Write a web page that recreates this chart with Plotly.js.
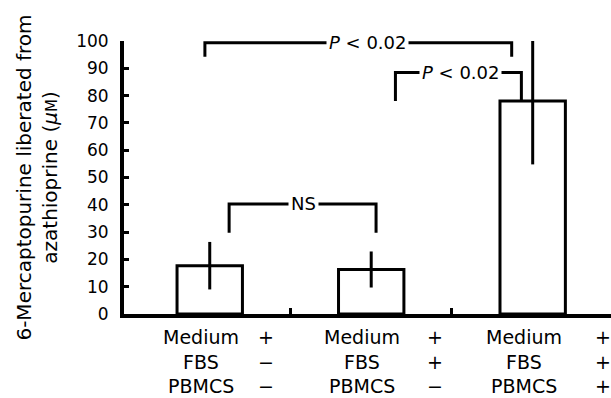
<!DOCTYPE html>
<html>
<head>
<meta charset="utf-8">
<script src="https://cdn.plot.ly/plotly-3.0.1.min.js"></script>
<style>html,body{margin:0;padding:0;background:#fff;}#chart{width:611px;height:398px;}</style>
</head>
<body>
<div id="chart"></div>
<script>
// ---- data ----
var groups = [0, 1, 2];
var means = [17.7, 16.3, 78];
var errors = [8.7, 6.6, 23.2];
var rowNames = ["Medium", "FBS", "PBMCS"];
var medium = ["+", "+", "+"];
var fbs = ["\u2212", "+", "+"];
var pbmcs = ["\u2212", "\u2212", "+"];
var yTickVals = [0, 10, 20, 30, 40, 50, 60, 70, 80, 90, 100];
var comparisons = [
  {from: 0, to: 1, label: "NS"},
  {from: 0, to: 2, label: "<i>P</i> < 0.02"},
  {from: 1, to: 2, label: "<i>P</i> < 0.02"}
];

var FONT = "DejaVu Sans, sans-serif";
var signs = [medium, fbs, pbmcs];

var trace = {
  type: "bar",
  x: groups,
  y: means,
  width: 0.405,
  cliponaxis: false,
  marker: {color: "#ffffff", line: {color: "#000000", width: 3}},
  error_y: {type: "data", array: errors, visible: true, color: "#000000", thickness: 3, width: 0},
  hoverinfo: "none"
};

var annotations = [];
var rowY = [-0.084, -0.176, -0.262];
for (var r = 0; r < rowNames.length; r++) {
  for (var g = 0; g < groups.length; g++) {
    annotations.push({x: groups[g] - 0.055, y: rowY[r], xref: "x", yref: "paper", text: rowNames[r],
      showarrow: false, borderpad: 0, font: {family: FONT, size: 19, color: "#000"}, xanchor: "center", yanchor: "middle"});
    annotations.push({x: groups[g] + 0.35 + 0.042 * g, y: rowY[r], xref: "x", yref: "paper", text: signs[r][g],
      showarrow: false, borderpad: 0, font: {family: FONT, size: 19, color: "#000"}, xanchor: "center", yanchor: "middle"});
  }
}

// brackets (layout geometry)
var bracketGeom = [
  {x0: 0.12, x1: 1.03, y: 40.3, l0: 29.8, l1: 29.8, tx: 0.58},
  {x0: -0.03, x1: 1.87, y: 99.4, l0: 94.2, l1: 94.2, tx: 0.98},
  {x0: 1.15, x1: 1.93, y: 88.5, l0: 78.0, l1: means[2], tx: 1.55}
];
var shapes = [];
comparisons.forEach(function (c, i) {
  var b = bracketGeom[i];
  shapes.push({type: "path", xref: "x", yref: "y",
    path: "M" + b.x0 + "," + b.l0 + " L" + b.x0 + "," + b.y + " L" + b.x1 + "," + b.y + " L" + b.x1 + "," + b.l1,
    line: {color: "#000", width: 3}});
  annotations.push({x: b.tx, y: b.y, xref: "x", yref: "y", text: c.label, showarrow: false,
    bgcolor: "#ffffff", borderpad: 2, font: {family: FONT, size: 18, color: "#000"},
    xanchor: "center", yanchor: "middle"});
});

var layout = {
  width: 611, height: 398,
  margin: {l: 124, r: 0, t: 41, b: 84},
  paper_bgcolor: "#fff", plot_bgcolor: "#fff",
  showlegend: false,
  font: {family: FONT, size: 17, color: "#000"},
  xaxis: {range: [-0.531, 2.485], showline: true, linecolor: "#000", linewidth: 4,
    ticks: "inside", tickvals: [0.5, 1.5], ticklen: 6, tickwidth: 3, tickcolor: "#000",
    showticklabels: false, showgrid: false, zeroline: false, fixedrange: true},
  yaxis: {range: [0, 100], tickvals: yTickVals, showline: true, linecolor: "#000", linewidth: 4,
    ticks: "inside", ticklen: 5, tickwidth: 3, tickcolor: "#000", ticklabelstandoff: 8,
    tickfont: {family: FONT, size: 17, color: "#000"},
    showgrid: false, zeroline: false, fixedrange: true,
    title: {text: "6-Mercaptopurine liberated from<br>azathioprine (<i>\u03bc</i><span style=\"font-size:15px\">M</span>)",
      font: {family: FONT, size: 20, color: "#000"}, standoff: 14}},
  shapes: shapes,
  annotations: annotations
};

Plotly.newPlot("chart", [trace], layout, {displayModeBar: false, staticPlot: true});
</script>
</body>
</html>
